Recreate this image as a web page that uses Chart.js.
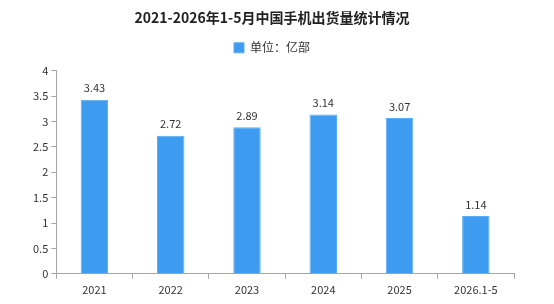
<!DOCTYPE html>
<html>
<head>
<meta charset="utf-8">
<script src="https://cdn.jsdelivr.net/npm/chart.js@4"></script>
<style>
  html, body { margin: 0; padding: 0; background: #fff; }
  #wrap { width: 554px; height: 304px; }
</style>
</head>
<body>
<div id="wrap"><canvas id="c" width="554" height="304"></canvas></div>
<script>
// chart data
const categories = ["2021", "2022", "2023", "2024", "2025", "2026.1-5"];
const shipments = [3.43, 2.72, 2.89, 3.14, 3.07, 1.14];
const yTicks = [0, 0.5, 1, 1.5, 2, 2.5, 3, 3.5, 4];

const FONT = "'Noto Sans CJK SC', 'DejaVu Sans', sans-serif";
const AXIS_GREY = "#a6a6a6";

// value labels above bars
const barLabels = {
    id: "barLabels",
    afterDatasetsDraw(chart) {
        const ctx = chart.ctx;
        const meta = chart.getDatasetMeta(0);
        ctx.save();
        ctx.font = "11px " + FONT;
        ctx.fillStyle = "#333";
        ctx.textAlign = "center";
        ctx.textBaseline = "bottom";
        meta.data.forEach((bar, i) => {
            ctx.fillText(shipments[i].toFixed(2), bar.x, bar.y - 6);
        });
        ctx.restore();
    }
};

// a bit more room under the legend
const legendGap = {
    id: "legendGap",
    beforeInit(chart) {
        const fit = chart.legend.fit;
        chart.legend.fit = function () {
            fit.call(this);
            this.height += 7;
        };
    }
};

new Chart(document.getElementById("c"), {
    type: "bar",
    data: {
        labels: categories,
        datasets: [{
            label: "单位：亿部",
            data: shipments,
            backgroundColor: "#3d9cf0",
            borderColor: "#5aacf5",
            borderWidth: 1,
            barPercentage: 0.36,
            categoryPercentage: 1,
        }]
    },
    options: {
        responsive: false,
        animation: false,
        layout: { padding: { left: 30, right: 40, top: 1, bottom: 4 } },
        plugins: {
            title: {
                display: true,
                text: "2021-2026年1-5月中国手机出货量统计情况",
                font: { family: FONT, size: 14, weight: "bold" },
                color: "#222",
                padding: { top: 8, bottom: 8 }
            },
            legend: {
                display: true,
                labels: {
                    font: { family: FONT, size: 12 },
                    color: "#333",
                    boxWidth: 10,
                    boxHeight: 10,
                    padding: 8
                }
            },
            tooltip: { enabled: false }
        },
        scales: {
            x: {
                grid: {
                    display: true,
                    drawOnChartArea: false,
                    drawTicks: true,
                    tickLength: 5,
                    color: AXIS_GREY,
                    offset: true
                },
                border: { color: AXIS_GREY, width: 1 },
                ticks: { font: { family: FONT, size: 11 }, color: "#333", padding: 4 }
            },
            y: {
                min: 0,
                max: 4,
                afterBuildTicks: axis => { axis.ticks = yTicks.map(v => ({ value: v })); },
                grid: {
                    display: true,
                    drawOnChartArea: false,
                    drawTicks: true,
                    tickLength: 5,
                    color: AXIS_GREY
                },
                border: { color: AXIS_GREY, width: 1 },
                ticks: {
                    font: { family: FONT, size: 11 },
                    color: "#333",
                    padding: 3,
                    callback: v => String(v)
                }
            }
        }
    },
    plugins: [barLabels, legendGap]
});
</script>
</body>
</html>
